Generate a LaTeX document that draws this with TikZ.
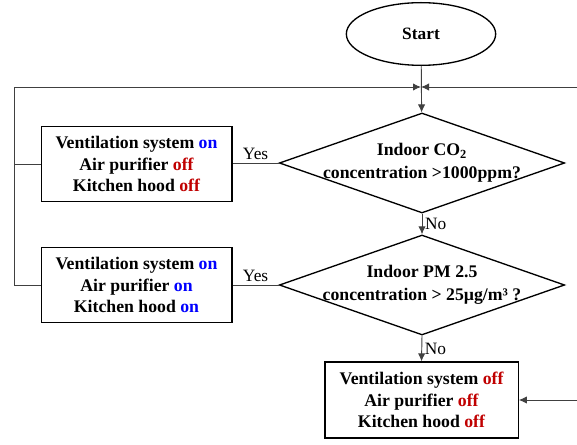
\documentclass[tikz,border=0pt]{standalone}
\usepackage{fontspec}
\setmainfont{Liberation Serif}
\usetikzlibrary{shapes.geometric, arrows.meta}

\definecolor{onblue}{RGB}{0,0,255}
\definecolor{offred}{RGB}{192,0,0}
\newcommand{\stateon}{\textcolor{onblue}{on}}
\newcommand{\stateoff}{\textcolor{offred}{off}}

\begin{document}
\begin{tikzpicture}[x=0.75pt, y=-0.75pt]

\tikzset{terminal/.style = {shape=ellipse,draw,line width=1pt,minimum width=112pt,minimum height=47pt,font=\bfseries\fontsize{13}{16}\selectfont}}
\tikzset{decision/.style = {shape=diamond,draw,line width=1pt,minimum width=214pt,minimum height=75pt,inner sep=0pt,shape aspect=2.86}}
\tikzset{question/.style = {align=center,font=\bfseries\fontsize{13.3}{17.5}\selectfont}}
\tikzset{action/.style = {shape=rectangle,draw,line width=1pt,minimum width=143pt,minimum height=56pt,align=center,font=\bfseries\fontsize{13.3}{16}\selectfont}}
\tikzset{edge/.style = {line width=0.7pt,draw=black!75,> = {Latex[length=6pt,width=5.5pt]}}}
\tikzset{answer/.style = {font=\fontsize{13}{15}\selectfont,inner sep=2pt}}

\useasboundingbox (0,0) rectangle (577,445);

%verticies
\node[terminal] (start) at (421,34) {Start};
\coordinate (join) at (421,87);
\coordinate (lt) at (14,87);
\coordinate (rt) at (577,87);
\coordinate (rb) at (577,400);
\node[decision, label={[question]center:{Indoor CO\textsubscript{2}\\concentration >1000ppm?}}] (co2) at (422,163) {};
\node[decision, label={[question]center:{Indoor PM 2.5\\concentration > 25µg/m³ ?}}] (pm) at (422,285) {};
\node[action] (box1) at (136.5,164) {Ventilation system \stateon\\Air purifier \stateoff\\Kitchen hood \stateoff};
\node[action] (box2) at (136.5,285) {Ventilation system \stateon\\Air purifier \stateon\\Kitchen hood \stateon};
\node[action, minimum width=145pt, minimum height=57pt] (box3) at (421.5,400) {Ventilation system \stateoff\\Air purifier \stateoff\\Kitchen hood \stateoff};

%edges
\draw [edge, ->] (start) -- (co2);
\draw [edge, ->] (box2.west) -| (lt) -- (join);
\draw [edge] (box1.west) -- (box1.west -| lt);
\draw [edge, ->] (rt) -- (join);
\draw [edge] (co2.west) -- (co2.west -| box1.east) node [answer, midway, above] {Yes};
\draw [edge] (pm.west) -- (box2.east) node [answer, midway, above] {Yes};
\draw [edge, ->] (co2.south) -- (pm.north) node [answer, midway, right] {No};
\draw [edge, ->] (pm.south) -- (box3.north) node [answer, midway, right] {No};
\draw [edge, ->] (rb) -- (box3.east);

\end{tikzpicture}
\end{document}
